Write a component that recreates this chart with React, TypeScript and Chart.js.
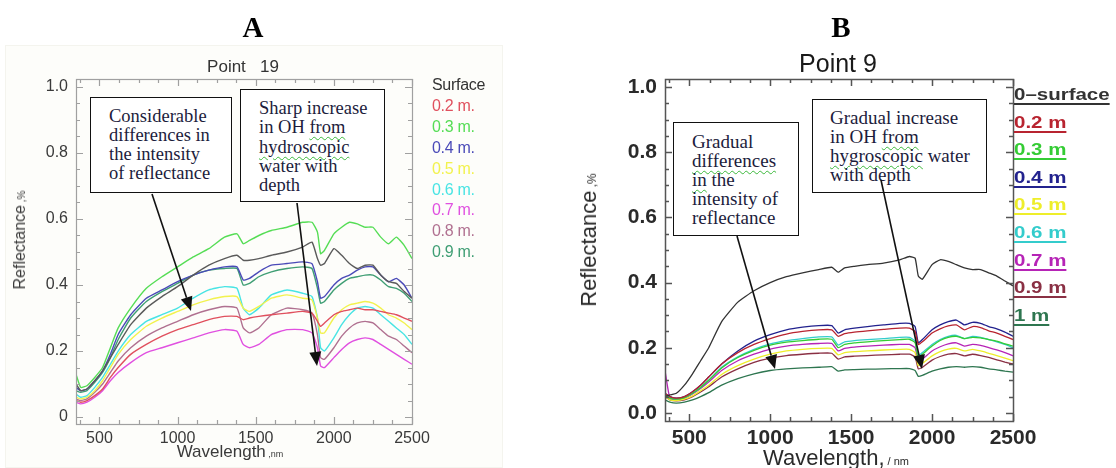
import React, { useEffect, useRef } from "react";
import { Chart, registerables } from "chart.js";
Chart.register(...registerables);

// ---------------- DATA ----------------
const WAVELENGTH = [350, 380, 420, 470, 520, 570, 620, 700, 800, 900, 1000, 1100, 1200, 1300, 1380, 1420, 1460, 1520, 1600, 1700, 1800, 1860, 1895, 1915, 1940, 2000, 2050, 2100, 2150, 2200, 2250, 2300, 2350, 2400, 2450, 2500];

const X_LABELS = [500, 1000, 1500, 2000, 2500];
const X_MINOR = [375, 500, 625, 750, 875, 1000, 1125, 1250, 1375, 1500, 1625, 1750, 1875, 2000, 2125, 2250, 2375, 2500];
const Y_LABELS = [0, 0.2, 0.4, 0.6, 0.8, 1.0];
const Y_MINOR = [0, 0.05, 0.1, 0.15, 0.2, 0.25, 0.3, 0.35, 0.4, 0.45, 0.5, 0.55, 0.6, 0.65, 0.7, 0.75, 0.8, 0.85, 0.9, 0.95, 1.0];

// Panel A: Point 19
const A_LABELS = ["Surface", "0.2 m.", "0.3 m.", "0.4 m.", "0.5 m.", "0.6 m.", "0.7 m.", "0.8 m.", "0.9 m."];
const A_COLORS = ["#5a5a5a", "#e0505e", "#55dd55", "#4a4ab8", "#f2f24e", "#48e4e4", "#e050e0", "#b07090", "#3f9e74"];
const A_SURFACE = [0.10, 0.08, 0.085, 0.11, 0.14, 0.18, 0.22, 0.28, 0.33, 0.365, 0.395, 0.43, 0.46, 0.48, 0.49, 0.475, 0.475, 0.48, 0.49, 0.50, 0.515, 0.53, 0.48, 0.46, 0.465, 0.51, 0.49, 0.465, 0.45, 0.46, 0.46, 0.43, 0.41, 0.405, 0.38, 0.36];
const A_02 = [0.05, 0.045, 0.05, 0.065, 0.085, 0.12, 0.15, 0.19, 0.22, 0.245, 0.265, 0.28, 0.295, 0.305, 0.305, 0.295, 0.30, 0.305, 0.31, 0.315, 0.32, 0.315, 0.29, 0.275, 0.285, 0.31, 0.32, 0.325, 0.33, 0.325, 0.325, 0.32, 0.315, 0.31, 0.30, 0.29];
const A_03 = [0.13, 0.09, 0.095, 0.12, 0.15, 0.21, 0.27, 0.33, 0.39, 0.425, 0.455, 0.485, 0.51, 0.545, 0.555, 0.525, 0.535, 0.55, 0.565, 0.575, 0.59, 0.59, 0.56, 0.495, 0.505, 0.555, 0.575, 0.59, 0.585, 0.575, 0.575, 0.545, 0.525, 0.545, 0.52, 0.48];
const A_04 = [0.09, 0.08, 0.085, 0.11, 0.14, 0.19, 0.25, 0.31, 0.36, 0.385, 0.41, 0.43, 0.445, 0.455, 0.455, 0.415, 0.42, 0.44, 0.46, 0.465, 0.47, 0.465, 0.41, 0.36, 0.365, 0.40, 0.42, 0.43, 0.445, 0.455, 0.455, 0.43, 0.41, 0.42, 0.40, 0.36];
const A_05 = [0.06, 0.055, 0.06, 0.08, 0.11, 0.15, 0.19, 0.235, 0.275, 0.30, 0.32, 0.34, 0.355, 0.365, 0.365, 0.33, 0.32, 0.335, 0.36, 0.37, 0.36, 0.355, 0.30, 0.255, 0.255, 0.30, 0.325, 0.34, 0.345, 0.35, 0.345, 0.33, 0.31, 0.30, 0.285, 0.265];
const A_06 = [0.07, 0.06, 0.065, 0.09, 0.12, 0.16, 0.20, 0.25, 0.29, 0.31, 0.33, 0.36, 0.385, 0.395, 0.39, 0.33, 0.31, 0.33, 0.37, 0.385, 0.375, 0.365, 0.30, 0.21, 0.20, 0.24, 0.28, 0.31, 0.33, 0.335, 0.33, 0.31, 0.29, 0.27, 0.25, 0.22];
const A_07 = [0.045, 0.04, 0.045, 0.06, 0.08, 0.11, 0.135, 0.165, 0.195, 0.21, 0.225, 0.24, 0.255, 0.265, 0.26, 0.22, 0.21, 0.22, 0.25, 0.265, 0.265, 0.255, 0.21, 0.155, 0.15, 0.18, 0.205, 0.225, 0.235, 0.24, 0.235, 0.22, 0.205, 0.19, 0.175, 0.16];
const A_08 = [0.055, 0.05, 0.055, 0.075, 0.10, 0.135, 0.17, 0.21, 0.245, 0.27, 0.29, 0.31, 0.325, 0.335, 0.33, 0.27, 0.255, 0.27, 0.31, 0.33, 0.325, 0.315, 0.25, 0.18, 0.175, 0.21, 0.245, 0.27, 0.285, 0.29, 0.285, 0.265, 0.245, 0.235, 0.215, 0.195];
const A_09 = [0.08, 0.075, 0.08, 0.105, 0.135, 0.18, 0.235, 0.30, 0.35, 0.38, 0.405, 0.43, 0.445, 0.45, 0.45, 0.40, 0.405, 0.425, 0.44, 0.45, 0.455, 0.45, 0.39, 0.345, 0.35, 0.385, 0.405, 0.42, 0.425, 0.43, 0.43, 0.415, 0.395, 0.39, 0.375, 0.35];
const A_SERIES = [A_SURFACE, A_02, A_03, A_04, A_05, A_06, A_07, A_08, A_09];

// Panel B: Point 9
const B_LABELS = ["0\u2013surface", "0.2 m", "0.3 m", "0.4 m", "0.5 m", "0.6 m", "0.7 m", "0.9 m", "1 m"];
const B_COLORS = ["#333333", "#b82430", "#34cc34", "#22228e", "#eeee2a", "#34cccc", "#b624b6", "#8a3044", "#2e7650"];
const B_SURFACE = [0.05, 0.055, 0.06, 0.085, 0.12, 0.16, 0.20, 0.28, 0.34, 0.375, 0.40, 0.418, 0.43, 0.44, 0.447, 0.432, 0.445, 0.45, 0.455, 0.46, 0.47, 0.48, 0.475, 0.42, 0.41, 0.455, 0.47, 0.465, 0.455, 0.445, 0.44, 0.44, 0.43, 0.42, 0.405, 0.39];
const B_02 = [0.06, 0.05, 0.045, 0.05, 0.065, 0.085, 0.11, 0.15, 0.185, 0.21, 0.228, 0.242, 0.25, 0.255, 0.255, 0.235, 0.243, 0.248, 0.252, 0.256, 0.26, 0.26, 0.25, 0.21, 0.218, 0.245, 0.258, 0.267, 0.27, 0.255, 0.265, 0.262, 0.252, 0.245, 0.235, 0.225];
const B_03 = [0.055, 0.045, 0.042, 0.047, 0.06, 0.078, 0.10, 0.138, 0.17, 0.192, 0.208, 0.217, 0.222, 0.226, 0.226, 0.20, 0.21, 0.215, 0.218, 0.222, 0.225, 0.226, 0.215, 0.17, 0.18, 0.205, 0.222, 0.232, 0.235, 0.228, 0.232, 0.23, 0.225, 0.22, 0.212, 0.205];
const B_04 = [0.06, 0.05, 0.045, 0.05, 0.065, 0.085, 0.11, 0.15, 0.19, 0.22, 0.24, 0.255, 0.263, 0.268, 0.268, 0.245, 0.255, 0.26, 0.265, 0.27, 0.275, 0.275, 0.265, 0.215, 0.225, 0.255, 0.27, 0.28, 0.285, 0.27, 0.278, 0.275, 0.265, 0.258, 0.248, 0.235];
const B_05 = [0.05, 0.04, 0.038, 0.042, 0.052, 0.068, 0.085, 0.118, 0.145, 0.165, 0.18, 0.19, 0.195, 0.198, 0.198, 0.178, 0.185, 0.188, 0.19, 0.193, 0.195, 0.195, 0.185, 0.145, 0.152, 0.175, 0.188, 0.196, 0.198, 0.19, 0.195, 0.19, 0.183, 0.176, 0.168, 0.16];
const B_06 = [0.055, 0.045, 0.042, 0.047, 0.06, 0.078, 0.10, 0.14, 0.172, 0.195, 0.212, 0.222, 0.228, 0.233, 0.233, 0.208, 0.218, 0.222, 0.225, 0.228, 0.232, 0.232, 0.22, 0.175, 0.185, 0.21, 0.225, 0.235, 0.238, 0.228, 0.235, 0.232, 0.225, 0.218, 0.21, 0.20];
const B_07 = [0.13, 0.045, 0.04, 0.045, 0.058, 0.075, 0.095, 0.13, 0.16, 0.18, 0.196, 0.205, 0.21, 0.213, 0.213, 0.19, 0.198, 0.202, 0.205, 0.208, 0.21, 0.21, 0.20, 0.158, 0.165, 0.19, 0.203, 0.212, 0.215, 0.205, 0.21, 0.207, 0.20, 0.193, 0.185, 0.175];
const B_09 = [0.05, 0.04, 0.037, 0.04, 0.05, 0.064, 0.08, 0.11, 0.135, 0.155, 0.168, 0.176, 0.18, 0.183, 0.183, 0.165, 0.172, 0.174, 0.176, 0.178, 0.18, 0.18, 0.172, 0.135, 0.14, 0.162, 0.173, 0.18, 0.182, 0.175, 0.18, 0.176, 0.17, 0.163, 0.156, 0.15];
const B_10 = [0.04, 0.033, 0.03, 0.033, 0.04, 0.05, 0.062, 0.085, 0.105, 0.12, 0.13, 0.135, 0.138, 0.14, 0.142, 0.128, 0.132, 0.133, 0.134, 0.135, 0.136, 0.136, 0.13, 0.112, 0.115, 0.128, 0.135, 0.14, 0.142, 0.14, 0.142, 0.14, 0.135, 0.132, 0.128, 0.125];
const B_SERIES = [B_SURFACE, B_02, B_03, B_04, B_05, B_06, B_07, B_09, B_10];

// ---------------- CHART HELPERS ----------------
const SANS = '"Liberation Sans", Arial, Helvetica, sans-serif';
const SERIF = '"Liberation Serif", "Times New Roman", serif';

function framePlugin(color: string, width: number) {
  return {
    id: "frameTicks",
    afterDatasetsDraw(chart: any) {
      const { ctx, chartArea: a, scales } = chart;
      const x = scales.x;
      const y = scales.y;
      ctx.save();
      ctx.strokeStyle = color;
      ctx.lineWidth = width;
      ctx.beginPath();
      for (const v of X_MINOR) {
        const px = Math.round(x.getPixelForValue(v)) + 0.5;
        const len = X_LABELS.includes(v) ? 7 : 4;
        ctx.moveTo(px, a.bottom);
        ctx.lineTo(px, a.bottom - len);
        ctx.moveTo(px, a.top);
        ctx.lineTo(px, a.top + len);
      }
      for (const v of Y_MINOR) {
        const py = Math.round(y.getPixelForValue(v)) + 0.5;
        const major = Y_LABELS.some((l) => Math.abs(l - v) < 1e-6);
        const len = major ? 7 : 4;
        ctx.moveTo(a.left, py);
        ctx.lineTo(a.left + len, py);
        ctx.moveTo(a.right, py);
        ctx.lineTo(a.right - len, py);
      }
      ctx.stroke();
      ctx.strokeRect(Math.round(a.left) + 0.5, Math.round(a.top) + 0.5, Math.round(a.right - a.left), Math.round(a.bottom - a.top));
      ctx.restore();
    },
  };
}

type PanelProps = {
  left: number;
  width: number;
  height: number;
  plotLeft: number;
  plotRight: number;
  plotTop: number;
  plotBottom: number;
  yMin: number;
  yMax: number;
  series: number[][];
  colors: string[];
  labels: string[];
  lineWidth: number;
  tickFont: any;
  tickColor: string;
  frameColor: string;
  frameWidth: number;
  zeroLabel: string;
};

function Panel(p: PanelProps) {
  const ref = useRef<HTMLCanvasElement>(null);
  useEffect(() => {
    if (!ref.current) return;
    const yAxisW = p.plotLeft;
    const xAxisH = p.height - p.plotBottom;
    const chart = new Chart(ref.current, {
      type: "line",
      data: {
        datasets: p.series.map((s, i) => ({
          label: p.labels[i],
          data: WAVELENGTH.map((w, j) => ({ x: w, y: s[j] })),
          borderColor: p.colors[i],
          borderWidth: p.lineWidth,
          pointRadius: 0,
          tension: 0.15,
          fill: false,
        })),
      },
      options: {
        responsive: false,
        animation: false,
        devicePixelRatio: 1,
        layout: { padding: { left: 0, right: p.width - p.plotRight, top: p.plotTop, bottom: 0 } },
        plugins: { legend: { display: false }, title: { display: false }, tooltip: { enabled: false } },
        scales: {
          x: {
            type: "linear",
            min: 350,
            max: 2500,
            grid: { display: false, drawTicks: false },
            border: { display: false },
            afterBuildTicks: (s: any) => {
              s.ticks = X_LABELS.map((v) => ({ value: v }));
            },
            afterFit: (s: any) => {
              s.height = xAxisH;
            },
            ticks: {
              font: p.tickFont,
              color: p.tickColor,
              padding: 5,
              maxRotation: 0,
              autoSkip: false,
              callback: (v: any) => String(v),
            },
          },
          y: {
            min: p.yMin,
            max: p.yMax,
            grid: { display: false, drawTicks: false },
            border: { display: false },
            afterBuildTicks: (s: any) => {
              s.ticks = Y_LABELS.map((v) => ({ value: v }));
            },
            afterFit: (s: any) => {
              s.width = yAxisW;
            },
            ticks: {
              font: p.tickFont,
              color: p.tickColor,
              padding: 8,
              autoSkip: false,
              callback: (v: any) => (Math.abs(v) < 1e-9 ? p.zeroLabel : Number(v).toFixed(1)),
            },
          },
        },
      },
      plugins: [framePlugin(p.frameColor, p.frameWidth)],
    } as any);
    return () => chart.destroy();
  }, []);
  return (
    <canvas
      ref={ref}
      width={p.width}
      height={p.height}
      style={{ position: "absolute", left: p.left, top: 0, width: p.width, height: p.height }}
    />
  );
}

// ---------------- TEXT HELPERS ----------------
const abs = (x: number, y: number, extra: any = {}): React.CSSProperties => ({
  position: "absolute",
  left: x,
  top: y,
  whiteSpace: "pre",
  ...extra,
});

const wavy: React.CSSProperties = {
  textDecoration: "underline wavy #3cb83c",
  textDecorationThickness: "1px",
  textUnderlineOffset: "3px",
};

function Box(props: { x: number; y: number; w: number; h: number; pad: number; padTop: number; font: number; lh: number; children: any }) {
  return (
    <div
      style={{
        position: "absolute",
        left: props.x,
        top: props.y,
        width: props.w,
        height: props.h,
        boxSizing: "border-box",
        border: "1.6px solid #111",
        background: "#fff",
        paddingLeft: props.pad,
        paddingTop: props.padTop,
        fontFamily: SERIF,
        fontSize: props.font,
        lineHeight: props.lh + "px",
        color: "#1c1c3c",
        whiteSpace: "pre",
      }}
    >
      {props.children}
    </div>
  );
}

function Arrow({ x1, y1, x2, y2 }: { x1: number; y1: number; x2: number; y2: number }) {
  const dx = x2 - x1;
  const dy = y2 - y1;
  const L = Math.hypot(dx, dy);
  const ux = dx / L;
  const uy = dy / L;
  const hl = 14;
  const hw = 6;
  const bx = x2 - ux * hl;
  const by = y2 - uy * hl;
  const pts = `${x2},${y2} ${bx - uy * hw},${by + ux * hw} ${bx + uy * hw},${by - ux * hw}`;
  return (
    <g>
      <line x1={x1} y1={y1} x2={bx} y2={by} stroke="#111" strokeWidth={1.6} />
      <polygon points={pts} fill="#111" />
    </g>
  );
}

export default function App() {
  return (
    <div style={{ position: "absolute", left: 0, top: 0, width: 1116, height: 468, background: "#fff", overflow: "hidden" }}>
      {/* faint background of panel A */}
      <div style={{ position: "absolute", left: 5, top: 45, width: 498, height: 423, background: "#fdfdfa", border: "1px solid #f4f4ee", boxSizing: "border-box" }} />

      <Panel
        left={0}
        width={500}
        height={468}
        plotLeft={76}
        plotRight={412}
        plotTop={79}
        plotBottom={424}
        yMin={-0.021}
        yMax={1.024}
        series={A_SERIES}
        colors={A_COLORS}
        labels={A_LABELS}
        lineWidth={1.4}
        tickFont={{ family: SANS, size: 16 }}
        tickColor="#3a3a3a"
        frameColor="#a0a0a0"
        frameWidth={1.2}
        zeroLabel="0"
      />
      <Panel
        left={560}
        width={556}
        height={468}
        plotLeft={105}
        plotRight={453}
        plotTop={79}
        plotBottom={421}
        yMin={-0.025}
        yMax={1.025}
        series={B_SERIES}
        colors={B_COLORS}
        labels={B_LABELS}
        lineWidth={1.3}
        tickFont={{ family: SANS, size: 21, weight: "bold" }}
        tickColor="#2a2a2a"
        frameColor="#555555"
        frameWidth={1.5}
        zeroLabel="0.0"
      />

      {/* Panel letters */}
      <div style={abs(253, 27, { transform: "translate(-50%,-50%)", fontFamily: SERIF, fontWeight: "bold", fontSize: 29, color: "#000" })}>A</div>
      <div style={abs(841, 27, { transform: "translate(-50%,-50%)", fontFamily: SERIF, fontWeight: "bold", fontSize: 29, color: "#000" })}>B</div>

      {/* Titles */}
      <div style={abs(243, 67, { transform: "translate(-50%,-50%)", fontFamily: SANS, fontSize: 17, color: "#333" })}>{"Point   19"}</div>
      <div style={abs(838, 63, { transform: "translate(-50%,-50%)", fontFamily: SANS, fontSize: 25, color: "#1a1a1a" })}>Point 9</div>

      {/* Axis titles A */}
      <div style={abs(20, 240, { transform: "translate(-50%,-50%) rotate(-90deg)", fontFamily: SANS, fontSize: 16, color: "#3a3a3a" })}>
        Reflectance<span style={{ fontSize: 10 }}>{" ,%"}</span>
      </div>
      <div style={abs(230, 452, { transform: "translate(-50%,-50%)", fontFamily: SANS, fontSize: 17, color: "#3a3a3a" })}>
        Wavelength<span style={{ fontSize: 9 }}>{" ,nm"}</span>
      </div>

      {/* Axis titles B */}
      <div style={abs(589, 240, { transform: "translate(-50%,-50%) rotate(-90deg)", fontFamily: SANS, fontSize: 22, color: "#2a2a2a" })}>
        Reflectance<span style={{ fontSize: 12 }}>{" ,%"}</span>
      </div>
      <div style={abs(836, 458, { transform: "translate(-50%,-50%)", fontFamily: SANS, fontSize: 22, color: "#2a2a2a" })}>
        Wavelength,<span style={{ fontSize: 11 }}>{" / nm"}</span>
      </div>

      {/* Legend A */}
      {A_LABELS.map((l, i) => (
        <div key={"la" + i} style={abs(432, 85 + i * 20.9, { transform: "translateY(-50%)", fontFamily: SANS, fontSize: 16, letterSpacing: "-0.3px", color: i === 0 ? "#333" : A_COLORS[i] })}>
          {l}
        </div>
      ))}

      {/* Legend B */}
      {B_LABELS.map((l, i) => (
        <div
          key={"lb" + i}
          style={abs(1014, 95 + i * 27.6, {
            transform: "translateY(-50%) scaleX(1.28)",
            transformOrigin: "left center",
            fontFamily: SANS,
            fontWeight: "bold",
            fontSize: 16,
            color: B_COLORS[i],
            textDecoration: "underline",
            textDecorationThickness: "1.5px",
            textUnderlineOffset: "3px",
          })}
        >
          {l}
        </div>
      ))}

      {/* Annotation boxes A */}
      <Box x={90} y={97} w={142} h={96} pad={18} padTop={9} font={18.5} lh={19}>
        {"Considerable\ndifferences in\nthe intensity\nof reflectance"}
      </Box>
      <Box x={240} y={89} w={145} h={113} pad={18} padTop={9} font={18.5} lh={19.3}>
        {"Sharp increase\nin OH "}
        <span style={wavy}>from</span>
        {"\n"}
        <span style={wavy}>hydroscopic</span>
        {"\nwater with\ndepth"}
      </Box>

      {/* Annotation boxes B */}
      <Box x={673} y={122} w={126} h={114} pad={18} padTop={9} font={19} lh={19}>
        {"Gradual\n"}
        <span style={wavy}>differences</span>
        {"\n"}
        <span style={wavy}>in</span>
        {" the\nintensity of\nreflectance"}
      </Box>
      <Box x={812} y={99} w={175} h={94} pad={17} padTop={8} font={19} lh={19}>
        {"Gradual increase\nin OH "}
        <span style={wavy}>from</span>
        {"\n"}
        <span style={wavy}>hygroscopic</span>
        {" water\nwith depth"}
      </Box>

      {/* Arrows */}
      <svg width={1116} height={468} style={{ position: "absolute", left: 0, top: 0, pointerEvents: "none" }}>
        <Arrow x1={152} y1={194} x2={191} y2={311} />
        <Arrow x1={297} y1={203} x2={317} y2={366} />
        <Arrow x1={737} y1={236} x2={775} y2={369} />
        <Arrow x1={881} y1={180} x2={922} y2={369} />
      </svg>
    </div>
  );
}
